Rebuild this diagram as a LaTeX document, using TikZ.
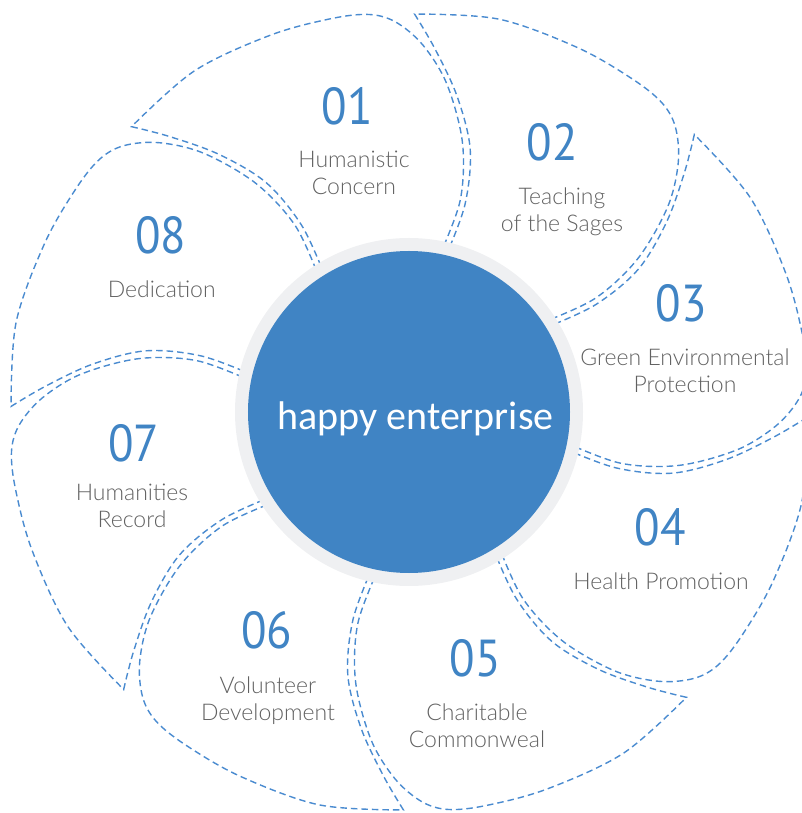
\documentclass[tikz,border=0pt]{standalone}
\usepackage{fontspec}
\setmainfont{Lato Light}
\newfontfamily\numfont[FakeStretch=0.9]{PT Sans}
\newfontfamily\titlefont{Carlito}
\definecolor{petalblue}{HTML}{4A8BD0}
\definecolor{discblue}{HTML}{4084C4}
\definecolor{ringgrey}{HTML}{EFF0F2}
\definecolor{textgrey}{HTML}{616161}
\begin{document}
\begin{tikzpicture}[x=1pt,y=1pt,
        petal/.style={draw=petalblue,line width=1.4pt,dash pattern=on 6.5pt off 4pt},
        num/.style={text=discblue,inner sep=0pt,font=\numfont\fontsize{52}{52}\selectfont},
        lbl/.style={text=textgrey,inner sep=0pt,align=center,font=\fontsize{23}{27}\selectfont}]
    \useasboundingbox (-409,-401) rectangle (392,412);
    \foreach \k in {0,...,7} {
        \draw[petal,rotate=134.2-45*\k]
            plot[smooth,tension=0.55] coordinates {(-12.5:160) (-14.3:215) (-12.3:270) (-7.8:320) (-3.2:365) (0:398)}
            -- plot[smooth,tension=0.55] coordinates {(0:398) (-12:403) (-24:401.5) (-33:401) (-38.5:399.5) (-42.3:390) (-46.4:367) (-50.8:330) (-55.4:275) (-57.8:218) (-55.3:160)};
    }
    \fill[ringgrey] (0,0) circle[radius=174];
    \fill[discblue] (0,0) circle[radius=161];
    \node[text=white,anchor=base,inner sep=0pt,font=\titlefont\fontsize{40}{40}\selectfont] (title) at (6.5,-18) {happy enterprise};
    \foreach \i/\nx/\ny/\lx/\ly/\txt in {
            01/-61.5/305.5/-55/239.5/{Humanistic\\Concern},
            02/143/269.5/153/200.2/{Teaching\\of the Sages},
            03/272/109/276/41.5/{Green Environmental\\Protection},
            04/251/-115/252/-169/{Health Promotion},
            05/66.5/-246/68/-314/{Charitable\\Commonweal},
            06/-142/-218/-141/-288.5/{Volunteer\\Development},
            07/-275.3/-31/-277/-94/{Humanities\\Record},
            08/-248/177/-247.3/123/{Dedication}} {
        \node[num] (n\i) at (\nx,\ny) {\i};
        \node[lbl] (l\i) at (\lx,\ly) {\txt};
    }
\end{tikzpicture}
\end{document}
